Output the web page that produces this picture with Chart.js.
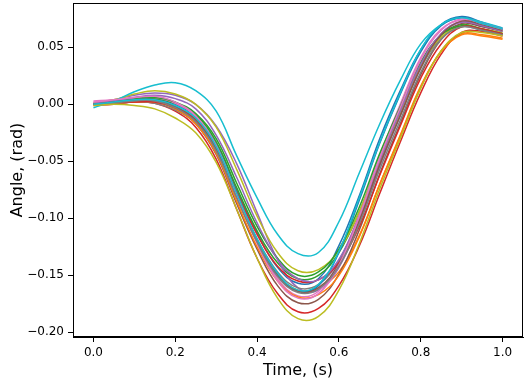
<!DOCTYPE html>
<html lang="en">
<head>
<meta charset="UTF-8">
<title>Angle vs Time</title>
<script src="https://cdn.jsdelivr.net/npm/chart.js"></script>
<style>
  body { margin: 0; background: #fff; }
  #wrap { width: 526px; height: 382px; }
</style>
</head>
<body>
<div id="wrap"><canvas id="myChart" width="526" height="382"></canvas></div>

<script>
  // time axis (s)
  const time = [0.00, 0.05, 0.10, 0.15, 0.20, 0.25, 0.30, 0.35, 0.40, 0.45, 0.50,
                0.55, 0.60, 0.65, 0.70, 0.75, 0.80, 0.85, 0.90, 0.95, 1.00];

  // angle per trial (rad)
  const trial01 = [0.000, 0.002, 0.004, 0.005, 0.000, -0.011, -0.035, -0.075, -0.113, -0.143, -0.157, -0.153, -0.124, -0.080, -0.030, 0.012, 0.048, 0.070, 0.077, 0.072, 0.066];
  const trial02 = [0.000, 0.001, 0.003, 0.003, -0.003, -0.015, -0.041, -0.082, -0.120, -0.149, -0.163, -0.161, -0.147, -0.115, -0.070, -0.028, 0.015, 0.047, 0.062, 0.061, 0.058];
  const trial03 = [0.000, 0.002, 0.004, 0.005, 0.001, -0.009, -0.033, -0.073, -0.111, -0.139, -0.153, -0.150, -0.130, -0.094, -0.047, -0.005, 0.035, 0.061, 0.070, 0.066, 0.062];
  const trial04 = [-0.001, 0.000, 0.002, 0.001, -0.006, -0.020, -0.048, -0.092, -0.135, -0.166, -0.182, -0.179, -0.159, -0.124, -0.078, -0.033, 0.010, 0.044, 0.063, 0.064, 0.060];
  const trial05 = [0.001, 0.004, 0.008, 0.010, 0.008, 0.000, -0.019, -0.052, -0.095, -0.136, -0.161, -0.163, -0.143, -0.103, -0.054, -0.010, 0.032, 0.062, 0.073, 0.069, 0.065];
  const trial06 = [0.000, 0.001, 0.003, 0.003, -0.004, -0.017, -0.044, -0.087, -0.127, -0.159, -0.174, -0.171, -0.149, -0.110, -0.061, -0.017, 0.026, 0.057, 0.071, 0.068, 0.064];
  const trial07 = [0.003, 0.004, 0.006, 0.006, 0.001, -0.011, -0.038, -0.080, -0.121, -0.153, -0.168, -0.164, -0.138, -0.096, -0.045, 0.000, 0.041, 0.066, 0.074, 0.071, 0.067];
  const trial08 = [0.000, 0.001, 0.002, 0.001, -0.005, -0.016, -0.040, -0.079, -0.118, -0.147, -0.161, -0.158, -0.137, -0.099, -0.051, -0.009, 0.032, 0.058, 0.068, 0.065, 0.061];
  const trial09 = [0.001, 0.004, 0.009, 0.012, 0.009, 0.000, -0.020, -0.057, -0.098, -0.130, -0.146, -0.145, -0.128, -0.094, -0.049, -0.007, 0.033, 0.059, 0.069, 0.066, 0.063];
  const trial10 = [-0.003, 0.003, 0.011, 0.017, 0.019, 0.012, -0.006, -0.045, -0.082, -0.114, -0.131, -0.130, -0.103, -0.060, -0.017, 0.021, 0.053, 0.070, 0.076, 0.072, 0.067];
  const trial11 = [0.000, 0.002, 0.004, 0.004, -0.002, -0.014, -0.040, -0.081, -0.120, -0.150, -0.164, -0.159, -0.130, -0.084, -0.034, 0.009, 0.046, 0.069, 0.076, 0.071, 0.066];
  const trial12 = [0.000, 0.001, 0.002, 0.002, -0.004, -0.017, -0.043, -0.085, -0.125, -0.155, -0.169, -0.167, -0.150, -0.116, -0.070, -0.027, 0.016, 0.046, 0.061, 0.060, 0.057];
  const trial13 = [0.000, 0.002, 0.005, 0.006, 0.002, -0.008, -0.030, -0.069, -0.107, -0.135, -0.150, -0.147, -0.127, -0.090, -0.043, -0.002, 0.037, 0.061, 0.069, 0.066, 0.062];
  const trial14 = [0.000, 0.001, 0.002, 0.002, -0.003, -0.014, -0.038, -0.077, -0.114, -0.142, -0.155, -0.154, -0.139, -0.107, -0.062, -0.019, 0.023, 0.053, 0.068, 0.066, 0.062];
  const trial15 = [0.001, 0.003, 0.006, 0.008, 0.005, -0.004, -0.027, -0.064, -0.104, -0.136, -0.153, -0.154, -0.136, -0.098, -0.049, -0.006, 0.035, 0.062, 0.072, 0.069, 0.064];
  const trial16 = [0.000, 0.002, 0.004, 0.004, -0.002, -0.013, -0.039, -0.079, -0.119, -0.149, -0.164, -0.161, -0.140, -0.102, -0.053, -0.010, 0.032, 0.061, 0.073, 0.070, 0.065];
  const trial17 = [0.002, 0.004, 0.006, 0.007, 0.002, -0.010, -0.036, -0.079, -0.122, -0.155, -0.170, -0.166, -0.141, -0.098, -0.047, -0.003, 0.039, 0.065, 0.075, 0.071, 0.066];
  const trial18 = [0.000, 0.001, 0.003, 0.003, -0.003, -0.015, -0.041, -0.082, -0.121, -0.151, -0.165, -0.162, -0.142, -0.105, -0.057, -0.014, 0.028, 0.057, 0.068, 0.065, 0.061];
  const trial19 = [-0.001, 0.000, -0.001, -0.004, -0.012, -0.025, -0.051, -0.092, -0.135, -0.170, -0.188, -0.186, -0.163, -0.122, -0.074, -0.030, 0.014, 0.047, 0.063, 0.063, 0.060];
  const trial20 = [0.000, 0.002, 0.004, 0.004, -0.001, -0.012, -0.037, -0.078, -0.118, -0.148, -0.163, -0.158, -0.129, -0.082, -0.033, 0.010, 0.048, 0.070, 0.076, 0.071, 0.066];

  const trials = [trial01, trial02, trial03, trial04, trial05, trial06, trial07, trial08, trial09, trial10,
                  trial11, trial12, trial13, trial14, trial15, trial16, trial17, trial18, trial19, trial20];

  // tick labels
  const xTicks = [0.0, 0.2, 0.4, 0.6, 0.8, 1.0];
  const yTicks = [-0.20, -0.15, -0.10, -0.05, 0.00, 0.05];

  // matplotlib tab10 cycle
  const colors = ['#1f77b4', '#ff7f0e', '#2ca02c', '#d62728', '#9467bd',
                  '#8c564b', '#e377c2', '#7f7f7f', '#bcbd22', '#17becf'];

  const font = "'DejaVu Sans', sans-serif";

  const datasets = trials.map(function(vals, i) {
    return {
      data: vals.map(function(v, j) { return {x: time[j], y: v}; }),
      borderColor: colors[i % colors.length],
      borderWidth: 1.5,
      pointRadius: 0,
      fill: false,
      tension: 0.4,
      order: trials.length - i   // last trial on top, like matplotlib
    };
  });

  // box around the plot area
  const frame = {
    id: 'frame',
    afterDraw: function(chart) {
      const a = chart.chartArea;
      const c = chart.ctx;
      c.save();
      c.strokeStyle = '#000';
      c.lineWidth = 1;
      c.strokeRect(Math.round(a.left) + 0.5, Math.round(a.top) + 0.5,
                   Math.round(a.right - a.left) - 1, Math.round(a.bottom - a.top) - 1);
      c.restore();
    }
  };

  const minus = function(v, d) {
    const s = Math.abs(v).toFixed(d);
    return v < -1e-9 ? '\u2212' + s : s;
  };

  new Chart(document.getElementById('myChart'), {
    type: 'line',
    data: { datasets: datasets },
    plugins: [frame],
    options: {
      responsive: false,
      animation: false,
      layout: { padding: { top: 3, right: 3, left: 0, bottom: 0 } },
      plugins: { legend: { display: false }, tooltip: { enabled: false } },
      scales: {
        x: {
          type: 'linear',
          min: -0.05,
          max: 1.05,
          afterBuildTicks: function(scale) {
            scale.ticks = xTicks.map(function(v) { return {value: v}; });
          },
          afterFit: function(scale) {
            scale.height = 45;
            scale.paddingLeft = 0;
            scale.paddingRight = 0;
          },
          ticks: {
            autoSkip: false,
            maxRotation: 0,
            padding: 4,
            color: '#000',
            font: { family: font, size: 12 },
            callback: function(v) { return minus(v, 1); }
          },
          grid: { display: true, drawOnChartArea: false, drawTicks: true, tickLength: 5, color: '#000' },
          border: { display: true, color: '#000' },
          title: {
            display: true,
            text: 'Time, (s)',
            color: '#000',
            font: { family: font, size: 16 },
            padding: { top: 0, bottom: 2 }
          }
        },
        y: {
          type: 'linear',
          min: -0.2041,
          max: 0.0889,
          afterBuildTicks: function(scale) {
            scale.ticks = yTicks.map(function(v) { return {value: v}; });
          },
          afterFit: function(scale) {
            scale.width = 73;
            scale.paddingTop = 0;
            scale.paddingBottom = 0;
          },
          ticks: {
            autoSkip: false,
            padding: 4,
            color: '#000',
            font: { family: font, size: 12 },
            callback: function(v) { return minus(v, 2); }
          },
          grid: { display: true, drawOnChartArea: false, drawTicks: true, tickLength: 5, color: '#000' },
          border: { display: true, color: '#000' },
          title: {
            display: true,
            text: 'Angle, (rad)',
            color: '#000',
            font: { family: font, size: 16 },
            padding: { top: 8, bottom: 0 }
          }
        }
      }
    }
  });
</script>
</body>
</html>
